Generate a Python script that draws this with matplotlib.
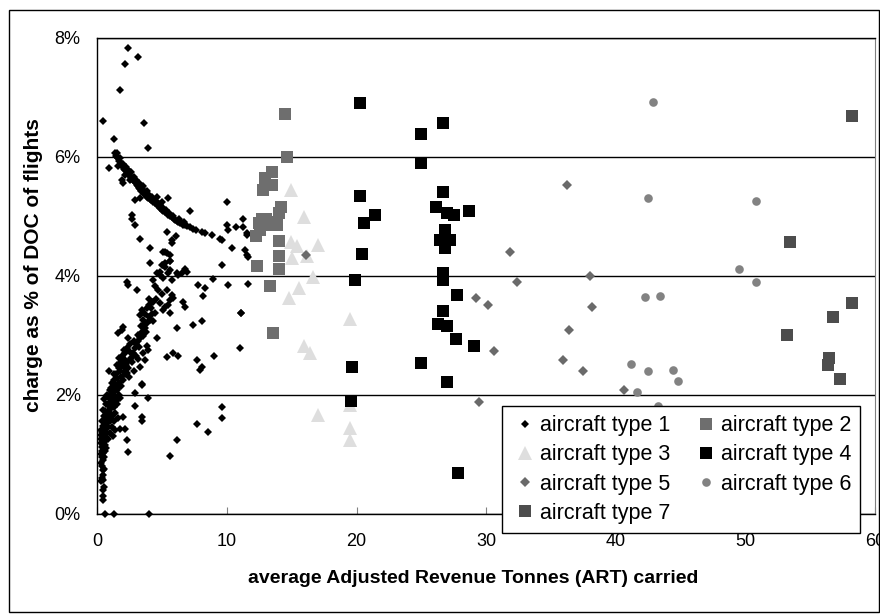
"""
cargo_tasa.py - Tasa como % del DOC frente a ART medio por tipo de aeronave.
"""
import matplotlib
matplotlib.use("Agg")
import matplotlib.pyplot as plt
from matplotlib.patches import Rectangle
from matplotlib.ticker import FuncFormatter

plt.rcParams["font.family"] = ["Liberation Sans", "DejaVu Sans"]

# tipo 1 (x = ART medio, y = % del DOC)
x1 = [2.35, 3.16, 2.11, 1.75, 0.46, 3.63, 1.29, 3.89, 0.93,
      1.37, 1.45, 1.55, 1.62, 1.70, 1.80, 1.88, 1.95, 2.05, 2.15, 2.27, 2.35, 2.45, 2.52, 2.62,
      2.70, 2.78, 2.88, 2.97, 3.04, 3.15, 3.22, 3.29, 3.40, 3.50, 3.60, 3.72, 3.85, 3.94, 4.05,
      4.15, 4.32, 4.45, 4.58, 4.71, 4.85, 4.97, 5.10, 5.22, 5.35, 5.48, 5.60, 5.74, 5.90, 6.02,
      6.13, 6.25, 6.38, 6.50, 6.64, 6.77, 6.95, 7.15, 7.41, 7.60, 8.06, 8.31, 8.83, 9.47, 9.60,
      1.88, 2.00, 2.91, 3.29, 4.58, 4.97, 5.48, 7.15, 9.98, 3.55, 2.60, 4.20, 3.80,
      1.50, 1.75, 2.00, 2.20, 2.40, 2.55, 2.80, 3.00, 3.20, 3.45, 3.70, 4.00, 4.25, 4.50, 4.80,
      5.05, 5.30, 5.55, 5.85, 6.30, 6.70, 2.10, 2.50, 1.60,
      2.65, 2.65, 2.91, 3.29, 4.07, 5.35, 5.74, 6.07, 5.22, 5.61, 5.61, 4.97, 5.22, 4.07, 6.77,
      9.60, 9.98, 10.10, 10.68, 11.26, 11.26, 10.37, 11.40, 11.53, 11.57, 11.53, 11.65, 11.60,
      11.10, 11.00, 11.10,
      5.09, 5.35, 5.61, 5.05, 5.22, 4.84, 4.58, 5.61, 6.13, 6.90, 6.51, 6.25, 4.84, 5.09, 5.48,
      5.74, 4.32, 8.95, 10.10, 7.79, 8.31, 8.18, 5.74,
      2.27, 2.39, 3.04, 4.45, 4.71, 4.97, 5.35, 5.74, 5.87, 5.61, 5.48, 5.22, 4.84, 5.09, 5.61,
      6.64, 6.77,
      2.27, 2.52, 2.91, 3.29, 3.68, 4.07, 4.45, 3.42, 3.29, 4.32, 3.55, 3.81, 3.94, 3.68, 3.29,
      2.00, 1.88, 1.62, 2.27, 2.52, 4.58, 6.13, 7.41, 8.06, 5.35, 5.86, 6.25, 7.67, 8.06,
      7.92, 9.00, 0.93, 3.42,
      2.40, 2.60, 2.75, 3.00, 3.10, 3.45, 3.60, 3.85, 3.95, 4.20, 3.10, 2.80, 3.50, 2.20, 2.10, 2.45,
      2.30, 2.55, 2.65, 2.85, 2.95, 3.15, 3.25, 3.40, 3.55, 3.70, 3.85, 4.00, 4.15, 3.75, 3.95,
      4.30, 4.55, 2.05, 2.35,
      3.42, 2.91, 3.94, 2.91, 3.42, 3.42, 1.75, 2.14, 2.27, 2.39, 2.00, 5.61, 6.13, 7.71, 8.56,
      9.65, 9.65, 0.59, 1.29, 4.01,
      0.40, 0.46, 0.42, 0.50, 0.45, 0.40, 0.46, 0.38, 0.44, 0.36, 0.42, 0.50, 0.35, 0.46, 0.55,
      0.40, 0.48, 0.30, 0.58, 0.38, 0.50, 0.65, 0.30, 0.28, 0.33,
      0.60, 0.72, 0.45, 0.80, 0.55, 0.68, 0.85, 0.98, 0.75, 0.62, 0.90, 1.05, 0.80, 1.15, 0.95,
      1.23, 1.05, 1.35, 0.88, 1.15, 1.49, 1.30, 1.60, 1.05, 1.40, 1.70, 2.00, 1.25, 1.55, 1.85,
      1.45, 1.75, 2.10, 1.65, 1.95, 1.80, 2.05, 1.90, 2.15, 1.60, 1.40, 1.25, 1.10, 0.95, 0.80,
      0.70, 1.20, 1.55, 1.75,
      0.25, 0.30, 0.55, 0.60, 0.25, 0.35, 0.50, 0.40, 0.65, 0.55, 0.75, 0.95, 0.70, 0.85, 1.00,
      1.15, 1.30, 1.45, 1.10, 1.30, 1.50, 1.70, 1.35, 0.75, 0.60, 0.30, 0.52, 0.35, 0.62, 0.90,
      1.20, 1.65, 1.85, 2.15]
y1 = [7.83, 7.68, 7.55, 7.12, 6.60, 6.57, 6.30, 6.15, 5.81,
      6.07, 6.02, 6.00, 5.97, 5.93, 5.90, 5.86, 5.83, 5.80, 5.78, 5.76, 5.72, 5.70, 5.67, 5.64,
      5.62, 5.60, 5.57, 5.55, 5.52, 5.50, 5.47, 5.45, 5.42, 5.40, 5.37, 5.35, 5.33, 5.31, 5.29,
      5.27, 5.24, 5.22, 5.20, 5.17, 5.14, 5.11, 5.09, 5.07, 5.05, 5.02, 5.00, 4.98, 4.96, 4.94,
      4.92, 4.91, 4.89, 4.88, 4.86, 4.85, 4.83, 4.81, 4.79, 4.77, 4.74, 4.72, 4.68, 4.61, 4.60,
      5.61, 5.56, 5.27, 5.30, 5.33, 5.24, 5.30, 5.09, 5.24, 5.50, 5.75, 5.33, 5.42,
      6.07, 5.98, 5.88, 5.83, 5.78, 5.74, 5.66, 5.60, 5.55, 5.47, 5.41, 5.35, 5.30, 5.26, 5.20,
      5.14, 5.10, 5.06, 5.00, 4.95, 4.90, 5.70, 5.60, 5.85,
      5.02, 4.96, 4.85, 4.61, 4.46, 4.74, 4.60, 4.66, 4.40, 4.35, 4.25, 4.18, 4.21, 4.22, 4.12,
      4.18, 4.85, 4.77, 4.81, 4.81, 4.95, 4.46, 4.43, 4.35, 4.68, 4.71, 4.32, 3.86,
      3.38, 2.78, 3.37,
      4.40, 4.38, 4.24, 4.18, 4.15, 4.07, 4.04, 4.10, 4.04, 4.07, 4.04, 4.01, 4.01, 3.96, 4.04,
      3.93, 3.93, 3.94, 3.84, 3.84, 3.79, 3.66, 4.55,
      3.90, 3.84, 3.76, 3.82, 3.76, 3.70, 3.76, 3.68, 3.62, 3.59, 3.51, 3.48, 3.54, 3.42, 3.37,
      3.56, 3.48,
      2.36, 2.58, 2.78, 2.95, 3.12, 3.26, 3.37, 3.42, 3.34, 3.23, 2.98, 2.81, 2.75, 2.58, 2.47,
      3.14, 3.09, 3.03, 2.78, 2.72, 2.95, 3.12, 3.17, 3.23, 2.64, 2.70, 2.65, 2.58, 2.47,
      2.41, 2.65, 2.40, 2.18,
      2.45, 2.62, 2.70, 2.85, 2.90, 3.05, 3.18, 3.20, 3.30, 3.35, 2.60, 2.40, 2.70, 2.50, 2.35, 2.30,
      2.55, 2.85, 2.55, 2.90, 2.65, 3.00, 2.80, 3.15, 3.25, 3.35, 3.45, 3.50, 3.45, 3.05, 3.60,
      3.55, 3.60, 2.75, 2.95,
      2.16, 2.02, 1.94, 1.81, 1.63, 1.55, 1.43, 1.42, 1.24, 1.03, 1.63, 0.97, 1.23, 1.51, 1.38,
      1.79, 1.60, 0.00, 0.00, 0.00,
      0.23, 0.30, 0.40, 0.45, 0.57, 0.65, 0.74, 0.80, 0.90, 0.95, 1.02, 1.08, 1.12, 1.15, 1.20,
      1.25, 1.30, 1.32, 1.35, 1.38, 1.42, 1.45, 1.18, 1.25, 1.05,
      1.50, 1.52, 1.48, 1.55, 1.58, 1.62, 1.63, 1.69, 1.70, 1.72, 1.75, 1.78, 1.82, 1.85, 1.88,
      1.91, 1.95, 1.98, 1.98, 2.02, 2.08, 2.10, 2.12, 2.12, 2.18, 2.20, 2.25, 2.25, 2.28, 2.30,
      2.35, 2.40, 2.38, 2.45, 2.48, 2.55, 2.60, 2.65, 2.70, 1.60, 1.70, 1.55, 1.45, 1.35, 1.25,
      1.10, 1.30, 1.85, 1.95,
      0.55, 0.85, 0.95, 1.05, 1.40, 1.55, 1.65, 1.75, 1.85, 1.92, 2.00, 2.08, 1.60, 1.45, 1.55,
      1.65, 1.80, 1.90, 2.20, 2.35, 2.50, 2.62, 1.40, 1.35, 1.28, 1.00, 0.75, 0.60, 1.15, 1.95,
      2.05, 2.00, 2.15, 2.45]

x2 = [14.48, 14.61, 13.46, 12.94, 13.46, 12.76, 14.15, 14.04, 12.50, 13.02, 13.46, 13.84,
      12.55, 12.25, 14.04, 14.04, 12.30, 14.04, 13.33, 13.53, 12.70, 13.20]
y2 = [6.72, 6.00, 5.75, 5.64, 5.52, 5.44, 5.15, 5.05, 4.89, 4.95, 4.85, 4.85,
      4.77, 4.66, 4.59, 4.33, 4.16, 4.12, 3.83, 3.03, 4.95, 4.90]

x3 = [14.92, 15.97, 14.92, 15.38, 17.05, 15.00, 16.15, 16.67, 15.59, 14.81, 19.50, 15.95,
      16.41, 17.05, 19.50, 19.50, 19.50]
y3 = [5.44, 4.98, 4.57, 4.50, 4.52, 4.29, 4.33, 3.98, 3.80, 3.62, 3.28, 2.81,
      2.70, 1.66, 1.83, 1.44, 1.24]

x4 = [20.27, 20.27, 21.43, 20.58, 20.40, 19.88, 19.68, 19.58, 26.70, 24.95, 24.95, 26.70,
      26.13, 26.96, 27.52, 28.70, 26.83, 26.44, 27.21, 26.83, 26.70, 26.70, 27.78, 26.70,
      26.31, 26.96, 27.68, 29.07, 24.95, 26.96, 27.86]
y4 = [6.91, 5.34, 5.02, 4.89, 4.36, 3.93, 2.46, 1.90, 6.56, 6.38, 5.90, 5.41,
      5.15, 5.05, 5.02, 5.08, 4.76, 4.60, 4.60, 4.46, 4.05, 3.93, 3.68, 3.40,
      3.19, 3.15, 2.93, 2.82, 2.54, 2.21, 0.68]

x5 = [16.07, 31.84, 32.36, 29.22, 30.17, 30.64, 29.47, 36.20, 37.97, 38.20, 36.42, 35.96,
      37.50, 40.64]
y5 = [4.35, 4.40, 3.90, 3.63, 3.50, 2.73, 1.88, 5.52, 3.99, 3.47, 3.08, 2.58,
      2.40, 2.08]

x6 = [42.83, 42.52, 42.24, 43.42, 41.18, 42.52, 44.44, 44.83, 41.67, 50.83, 49.54, 50.83, 43.28]
y6 = [6.92, 5.31, 3.65, 3.66, 2.51, 2.39, 2.42, 2.23, 2.05, 5.26, 4.12, 3.90, 1.81]

x7 = [58.22, 53.40, 58.21, 56.79, 53.19, 56.48, 56.36, 57.31]
y7 = [6.68, 4.56, 3.54, 3.31, 3.00, 2.61, 2.50, 2.26]

etiquetas = ["aircraft type %d" % i for i in range(1, 8)]

# marcador, tamaño, color por tipo
estilos = [
    ("D", 3.7, "#000000"),
    ("s", 8.4, "#6e6e6e"),
    ("^", 9.6, "#dedede"),
    ("s", 8.4, "#000000"),
    ("D", 5.4, "#6a6a6a"),
    ("o", 6.2, "#828282"),
    ("s", 8.4, "#4d4d4d"),
]
series = [(x1, y1), (x2, y2), (x3, y3), (x4, y4), (x5, y5), (x6, y6), (x7, y7)]

fig = plt.figure(figsize=(8.8, 6.14), dpi=100)
ax = fig.add_axes([0.1106, 0.1634, 0.8838, 0.7752])

lineas = []
for (xs, ys), (mk, ms, col), lab in zip(series, estilos, etiquetas):
    ln, = ax.plot(xs, ys, linestyle="none", marker=mk, markersize=ms, color=col,
                  markeredgewidth=0, label=lab, clip_on=False, zorder=3)
    lineas.append(ln)

ax.set_xlim(0, 60)
ax.set_ylim(0, 8)
ax.set_xticks(range(0, 61, 10))
ax.set_yticks([0, 2, 4, 6, 8])
ax.yaxis.set_major_formatter(FuncFormatter(lambda v, p: "%d%%" % v))
ax.yaxis.grid(True, color="black", linewidth=1)
ax.set_axisbelow(True)

ax.tick_params(axis="x", direction="in", length=5, color="#808080", labelsize=13, pad=14)
ax.tick_params(axis="y", length=0, labelsize=13, pad=12)
for lado in ["left", "bottom", "top"]:
    ax.spines[lado].set_color("black")
    ax.spines[lado].set_linewidth(1)
ax.spines["right"].set_color("#808080")

ax.set_xlabel("average Adjusted Revenue Tonnes (ART) carried", fontsize=14,
              fontweight="bold", labelpad=14)
ax.set_ylabel("charge as % of DOC of flights", fontsize=15, fontweight="bold", labelpad=8)
ax.xaxis.label.set_x(0.4835)
ax.yaxis.label.set_y(0.5225)

# leyenda en dos columnas, filas 1-2 / 3-4 / 5-6 / 7
orden = [0, 2, 4, 6, 1, 3, 5]
leg = ax.legend([lineas[i] for i in orden], [etiquetas[i] for i in orden], ncol=2,
                loc="upper left", bbox_to_anchor=(0.520, 0.226), fontsize=15.5,
                frameon=True, fancybox=False, framealpha=1, edgecolor="black",
                handlelength=1.35, handletextpad=0.0, columnspacing=1.0,
                labelspacing=0.38, borderpad=0.42, borderaxespad=0)
leg.get_frame().set_linewidth(1)
leg.set_zorder(5)

# marco exterior del gráfico
fig.patches.append(Rectangle((9 / 880, 1 - 612 / 614), 870 / 880, 602 / 614,
                             transform=fig.transFigure, fill=False,
                             edgecolor="black", linewidth=1))

fig.savefig("out.png", dpi=100)
